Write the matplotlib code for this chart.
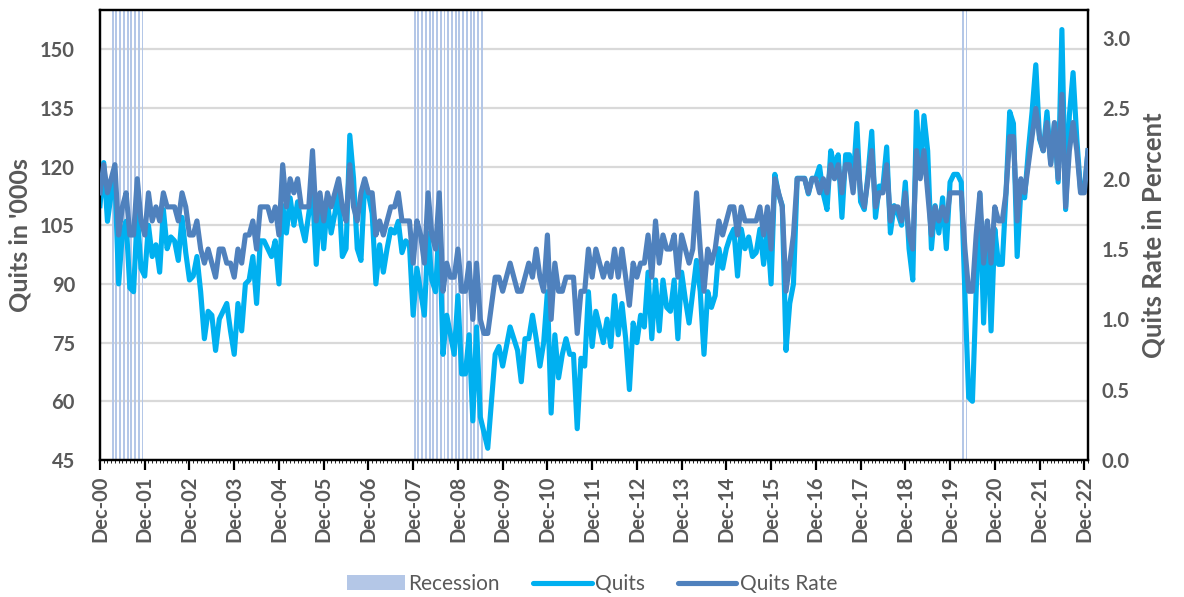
import matplotlib
matplotlib.use("Agg")
import matplotlib.pyplot as plt
import numpy as np
from matplotlib.patches import Patch
from matplotlib.lines import Line2D

# Monthly data, Dec-2000 .. Jan-2023
quits = [
    110, 121, 106, 113, 117, 90, 103, 106, 89, 88,
    108, 94, 92, 105, 97, 100, 93, 109, 99, 102,
    101, 96, 107, 98, 91, 92, 97, 88, 76, 83,
    82, 73, 81, 83, 85, 78, 72, 85, 78, 90,
    91, 97, 85, 101, 101, 99, 97, 101, 90, 110,
    103, 112, 105, 111, 105, 101, 108, 114, 95, 111,
    99, 111, 103, 108, 114, 97, 99, 128, 117, 99,
    96, 116, 113, 108, 90, 100, 93, 99, 104, 103,
    106, 98, 101, 100, 82, 94, 88, 82, 103, 91,
    88, 106, 72, 82, 77, 72, 87, 67, 67, 77,
    55, 79, 56, 52, 48, 60, 72, 74, 69, 74,
    79, 76, 73, 65, 76, 76, 82, 76, 69, 75,
    88, 57, 77, 66, 72, 76, 72, 72, 53, 71,
    69, 88, 74, 83, 79, 75, 81, 74, 87, 77,
    85, 76, 63, 80, 75, 82, 79, 93, 76, 91,
    78, 91, 84, 83, 91, 76, 93, 86, 80, 88,
    96, 88, 72, 88, 84, 87, 99, 94, 99, 102,
    104, 92, 104, 99, 102, 97, 98, 104, 95, 104,
    90, 118, 113, 110, 73, 85, 90, 117, 117, 117,
    113, 117, 117, 120, 113, 109, 124, 120, 123, 107,
    123, 123, 116, 131, 111, 109, 118, 129, 107, 115,
    115, 125, 103, 110, 108, 105, 116, 99, 91, 134,
    118, 133, 124, 99, 110, 103, 112, 99, 116, 118,
    118, 116, 87, 61, 60, 88, 113, 80, 106, 78,
    104, 95, 95, 113, 134, 131, 97, 114, 112, 124,
    134, 146, 127, 124, 134, 121, 131, 116, 155, 109,
    133, 144, 127, 114, 114, 124,
]

quits_rate = [
    1.9, 2.1, 1.9, 2.0, 2.1, 1.6, 1.8, 1.9, 1.6, 1.6,
    2.0, 1.7, 1.6, 1.9, 1.7, 1.8, 1.7, 1.9, 1.8, 1.8,
    1.8, 1.7, 1.9, 1.8, 1.6, 1.6, 1.7, 1.5, 1.4, 1.5,
    1.4, 1.3, 1.5, 1.5, 1.4, 1.4, 1.3, 1.5, 1.4, 1.6,
    1.6, 1.7, 1.5, 1.8, 1.8, 1.8, 1.7, 1.8, 1.6, 2.1,
    1.8, 2.0, 1.9, 2.0, 1.8, 1.8, 1.8, 2.2, 1.7, 1.9,
    1.7, 1.9, 1.8, 1.9, 2.0, 1.8, 1.7, 2.1, 1.8, 1.7,
    1.9, 2.0, 1.9, 1.9, 1.6, 1.7, 1.6, 1.7, 1.8, 1.8,
    1.9, 1.7, 1.7, 1.7, 1.4, 1.7, 1.6, 1.4, 1.9, 1.6,
    1.5, 1.9, 1.2, 1.4, 1.3, 1.3, 1.5, 1.2, 1.2, 1.4,
    1.0, 1.4, 1.0, 0.9, 0.9, 1.1, 1.3, 1.3, 1.2, 1.3,
    1.4, 1.3, 1.2, 1.2, 1.3, 1.4, 1.3, 1.5, 1.3, 1.2,
    1.6, 1.0, 1.4, 1.2, 1.2, 1.3, 1.3, 1.3, 0.9, 1.2,
    1.2, 1.5, 1.3, 1.5, 1.4, 1.3, 1.4, 1.3, 1.5, 1.3,
    1.5, 1.3, 1.1, 1.4, 1.3, 1.4, 1.4, 1.6, 1.3, 1.7,
    1.4, 1.6, 1.5, 1.5, 1.6, 1.3, 1.6, 1.5, 1.4, 1.5,
    1.9, 1.5, 1.2, 1.5, 1.4, 1.5, 1.7, 1.6, 1.7, 1.8,
    1.8, 1.6, 1.8, 1.7, 1.7, 1.7, 1.7, 1.8, 1.6, 1.8,
    1.5, 2.0, 1.9, 1.8, 1.2, 1.4, 1.6, 2.0, 2.0, 2.0,
    1.9, 2.0, 2.0, 1.9, 2.0, 1.9, 2.1, 2.0, 2.1, 1.9,
    2.1, 2.1, 1.9, 2.2, 1.9, 1.8, 2.0, 2.2, 1.8, 1.9,
    1.9, 2.1, 1.7, 1.8, 1.8, 1.7, 1.9, 1.6, 1.5, 2.2,
    2.0, 2.2, 1.9, 1.6, 1.8, 1.7, 1.8, 1.7, 1.9, 1.9,
    1.9, 1.9, 1.5, 1.2, 1.2, 1.6, 1.9, 1.4, 1.7, 1.4,
    1.8, 1.7, 1.7, 1.9, 2.3, 2.3, 1.7, 2.0, 1.9, 2.1,
    2.3, 2.5, 2.3, 2.2, 2.4, 2.1, 2.4, 2.0, 2.6, 1.8,
    2.2, 2.4, 2.2, 1.9, 1.9, 2.2,
]

# Recession months (month index from Dec-2000)
recession_months = list(range(3, 12)) + list(range(84, 103)) + [231, 232]

tick_labels = ["Dec-%02d" % y for y in range(0, 23)]

months = np.arange(len(quits))

GRAY = "#595959"
QUITS_C = "#00B0F0"
RATE_C = "#4F81BD"
REC_C = "#B4C7E7"
FONT = "Lato"
LW = 3.7

fig = plt.figure(figsize=(11.84, 5.97), dpi=100)
ax = fig.add_axes([100 / 1184, 1 - 460 / 597, 988 / 1184, 450 / 597])
ax2 = ax.twinx()

ymin, ymax = 45, 160
ax.set_ylim(ymin, ymax)
ax2.set_ylim(0, 3.2)
ax.set_xlim(0, len(quits) - 1)

# recession bars
ax.bar(np.array(recession_months) + 0.4, ymax - ymin, bottom=ymin, width=0.5,
       color=REC_C, linewidth=0, zorder=1)

ax.plot(months, quits, color=QUITS_C, lw=LW, zorder=3, solid_joinstyle="round")
ax2.plot(months, quits_rate, color=RATE_C, lw=LW, zorder=3, solid_joinstyle="round")

ax.set_yticks([45, 60, 75, 90, 105, 120, 135, 150])
ax.yaxis.grid(True, color="#D9D9D9", lw=1.6, zorder=0)
ax.set_axisbelow(True)
ax2.set_yticks([0.0, 0.5, 1.0, 1.5, 2.0, 2.5, 3.0])
ax2.set_yticklabels(["%.1f" % v for v in [0.0, 0.5, 1.0, 1.5, 2.0, 2.5, 3.0]])

ax.set_xticks(np.arange(0, 265, 12))
ax.set_xticklabels(tick_labels, rotation=90)
ax.set_xticks(np.arange(0, 266, 1), minor=True)

for a in (ax, ax2):
    for s in a.spines.values():
        s.set_color("black")
        s.set_linewidth(1.6)

ax.tick_params(axis="x", which="major", length=7, width=1.6, color="black",
               labelsize=14.5, labelcolor=GRAY, pad=4)
ax.tick_params(axis="x", which="minor", length=2, width=0.6, color="black")
ax.tick_params(axis="y", length=0, labelsize=14.5, labelcolor=GRAY, pad=18)
ax2.tick_params(axis="y", length=0, labelsize=14.5, labelcolor=GRAY, pad=10)

for lbl in ax.get_xticklabels() + ax.get_yticklabels() + ax2.get_yticklabels():
    lbl.set_fontweight("bold")
    lbl.set_fontfamily(FONT)

ax.set_ylabel("Quits in '000s", fontsize=18, fontweight="bold", color=GRAY,
              fontfamily=FONT, labelpad=6)
ax2.set_ylabel("Quits Rate in Percent", fontsize=18.5, fontweight="bold", color=GRAY,
               fontfamily=FONT, labelpad=8)

handles = [Patch(facecolor=REC_C, edgecolor="none"),
           Line2D([0], [0], color=QUITS_C, lw=LW, solid_capstyle="round"),
           Line2D([0], [0], color=RATE_C, lw=LW, solid_capstyle="round")]
leg = fig.legend(handles, ["Recession", "Quits", "Quits Rate"], loc="center",
                 bbox_to_anchor=(0.5, 1 - 584 / 597), ncol=3, frameon=False,
                 prop={"family": FONT, "size": 15}, handlelength=2.8,
                 handletextpad=0.15, columnspacing=1.6)
for t in leg.get_texts():
    t.set_color(GRAY)

fig.savefig("out.png", dpi=100)
